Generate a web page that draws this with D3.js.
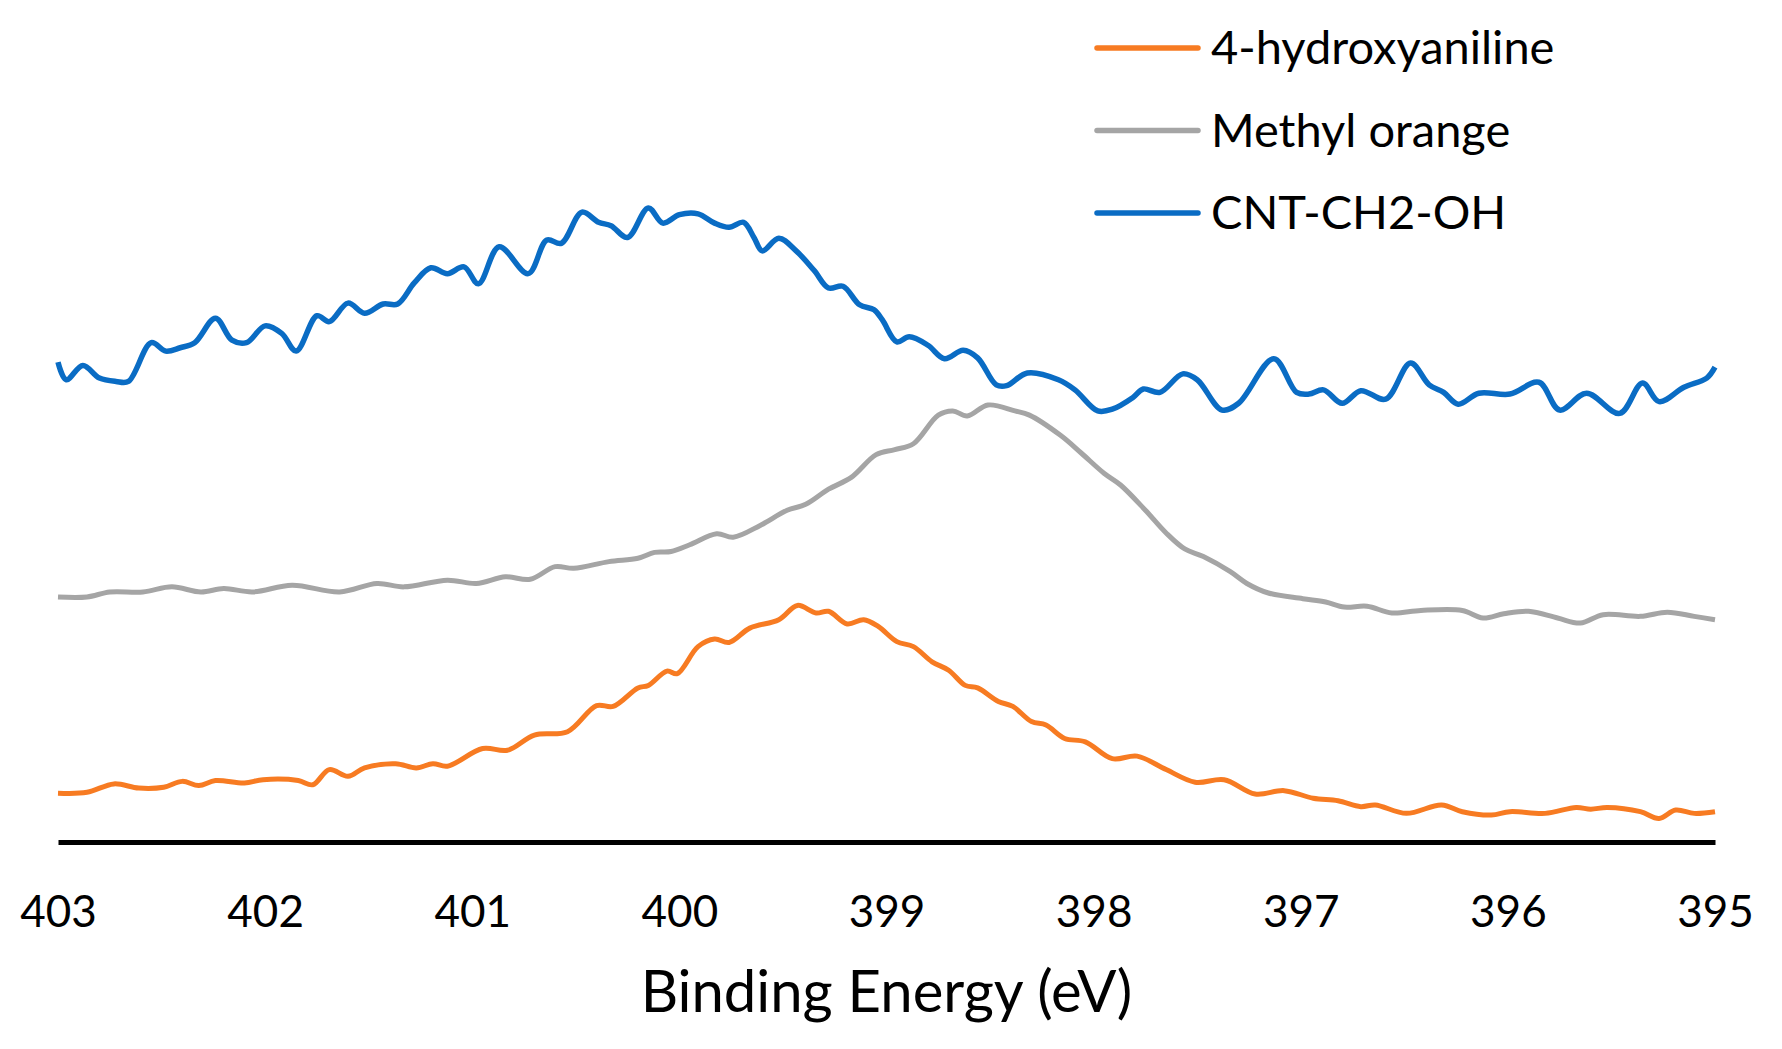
<!doctype html>
<html lang="en">

<head>
  <meta charset="UTF-8">
  <title>N 1s XPS</title>
  <style type="text/css">
    body { margin: 0; background: #fff; }
    text { font-family: Lato, "Open Sans", sans-serif; fill: #000; }
  </style>
  <script src="https://cdn.jsdelivr.net/npm/d3@7/dist/d3.min.js"></script>
</head>

<body>
  <div id="container"></div>
  <script>
    // series (binding energy in eV, intensity in a.u.)
    var blueEnergy = [403.00, 402.96, 402.88, 402.80, 402.72, 402.66, 402.55, 402.48, 402.41, 402.34,
      402.24, 402.16, 402.09, 402.00, 401.92, 401.85, 401.75, 401.69, 401.60, 401.52,
      401.43, 401.36, 401.28, 401.20, 401.12, 401.04, 400.97, 400.87, 400.73, 400.64,
      400.57, 400.47, 400.39, 400.33, 400.25, 400.15, 400.08, 400.00, 399.91, 399.83,
      399.76, 399.69, 399.64, 399.60, 399.52, 399.44, 399.35, 399.28, 399.21, 399.13,
      399.06, 399.02, 398.95, 398.89, 398.80, 398.72, 398.63, 398.56, 398.47, 398.42,
      398.32, 398.17, 398.09, 397.98, 397.91, 397.81, 397.76, 397.68, 397.57, 397.50,
      397.38, 397.30, 397.13, 397.02, 396.96, 396.89, 396.80, 396.71, 396.59, 396.47,
      396.38, 396.31, 396.24, 396.14, 395.99, 395.85, 395.75, 395.62, 395.46, 395.35,
      395.27, 395.15, 395.04, 395.00];
    var blueValues = [57.0, 54.9, 56.6, 55.1, 54.7, 54.7, 59.3, 58.3, 58.7, 59.3,
      62.2, 59.6, 59.3, 61.3, 60.4, 58.3, 62.5, 61.8, 64.0, 62.8,
      63.9, 63.9, 66.4, 68.2, 67.5, 68.3, 66.3, 70.7, 67.5, 71.5,
      71.1, 74.8, 73.6, 73.2, 71.8, 75.3, 73.5, 74.5, 74.6, 73.5,
      73.0, 73.6, 71.8, 70.2, 71.7, 70.3, 67.9, 65.8, 66.0, 63.8,
      63.2, 62.0, 59.4, 60.0, 59.0, 57.4, 58.4, 57.5, 54.3, 54.2,
      55.7, 54.9, 53.7, 51.2, 51.4, 52.8, 53.8, 53.4, 55.6, 54.9,
      51.3, 52.1, 57.4, 53.4, 53.2, 53.7, 52.1, 53.6, 52.6, 56.9,
      54.3, 53.4, 52.0, 53.3, 53.2, 54.6, 51.3, 53.3, 50.9, 54.5,
      52.3, 54.0, 55.1, 56.4];

    var grayEnergy = [403.00, 402.86, 402.75, 402.59, 402.45, 402.31, 402.20, 402.06, 401.87, 401.64,
      401.46, 401.33, 401.12, 400.98, 400.84, 400.72, 400.60, 400.51, 400.34, 400.20,
      400.12, 400.04, 399.95, 399.82, 399.74, 399.61, 399.48, 399.39, 399.28, 399.17,
      399.05, 398.96, 398.87, 398.75, 398.68, 398.61, 398.51, 398.38, 398.31, 398.16,
      398.06, 397.95, 397.87, 397.75, 397.65, 397.56, 397.47, 397.34, 397.26, 397.16,
      396.99, 396.88, 396.79, 396.68, 396.56, 396.42, 396.22, 396.12, 396.02, 395.90,
      395.76, 395.65, 395.54, 395.36, 395.23, 395.10, 395.00];
    var grayValues = [29.1, 29.1, 29.7, 29.7, 30.3, 29.7, 30.1, 29.7, 30.5, 29.7,
      30.7, 30.3, 31.1, 30.7, 31.5, 31.2, 32.7, 32.5, 33.3, 33.7,
      34.4, 34.5, 35.3, 36.6, 36.2, 37.6, 39.4, 40.1, 41.9, 43.3,
      46.0, 46.6, 47.3, 50.7, 51.2, 50.6, 51.9, 51.2, 50.7, 48.3,
      46.2, 43.8, 42.4, 39.4, 36.7, 34.8, 33.9, 32.1, 30.7, 29.6,
      28.9, 28.5, 27.9, 28.0, 27.2, 27.5, 27.5, 26.6, 27.1, 27.4,
      26.6, 26.0, 27.0, 26.8, 27.3, 26.8, 26.4];

    var orangeEnergy = [403.00, 402.86, 402.73, 402.61, 402.49, 402.40, 402.32, 402.24, 402.10, 402.01,
      401.84, 401.77, 401.69, 401.60, 401.52, 401.37, 401.27, 401.19, 401.12, 400.95,
      400.83, 400.70, 400.54, 400.40, 400.32, 400.20, 400.15, 400.06, 400.01, 399.91,
      399.83, 399.76, 399.66, 399.52, 399.43, 399.34, 399.28, 399.19, 399.11, 399.04,
      398.95, 398.87, 398.78, 398.70, 398.62, 398.56, 398.46, 398.39, 398.30, 398.23,
      398.14, 398.04, 397.91, 397.79, 397.65, 397.51, 397.37, 397.22, 397.08, 396.94,
      396.82, 396.71, 396.64, 396.49, 396.32, 396.22, 396.08, 395.99, 395.82, 395.67,
      395.60, 395.52, 395.36, 395.27, 395.19, 395.10, 395.00];
    var orangeValues = [5.8, 5.9, 6.9, 6.4, 6.5, 7.2, 6.7, 7.3, 7.0, 7.4,
      7.3, 6.8, 8.6, 7.8, 8.8, 9.3, 8.8, 9.3, 9.0, 11.1,
      10.9, 12.7, 13.1, 16.2, 16.1, 18.3, 18.6, 20.3, 20.0, 23.2,
      24.1, 23.7, 25.4, 26.4, 28.1, 27.2, 27.4, 25.9, 26.4, 25.6,
      23.8, 23.2, 21.4, 20.4, 18.6, 18.3, 16.7, 16.1, 14.3, 13.9,
      12.3, 11.9, 9.9, 10.2, 8.6, 7.1, 7.4, 5.7, 6.1, 5.2,
      4.9, 4.2, 4.4, 3.4, 4.4, 3.6, 3.2, 3.6, 3.4, 4.1,
      3.9, 4.1, 3.6, 2.8, 3.8, 3.4, 3.6];

    var seriesNames = ["4-hydroxyaniline", "Methyl orange", "CNT-CH2-OH"];
    var seriesColors = ["#f77b22", "#a5a5a5", "#0a6cc4"];
    var xTicks = [403, 402, 401, 400, 399, 398, 397, 396, 395];
    var xTitle = "Binding Energy (eV)";

    var width = 1782,
      height = 1049,
      margin = { left: 58, top: 0, right: 67, bottom: 207 };

    var svg = d3.select('#container').append('svg').attr('width', width).attr('height', height)

    var x = d3.scaleLinear()
      .domain([403, 395]) // energy runs right to left
      .range([margin.left, width - margin.right]);
    var y = d3.scaleLinear()
      .domain([0, 100])
      .range([height - margin.bottom, margin.top]);

    var line = d3.line()
      .x(function (d) { return x(d[0]); })
      .y(function (d) { return y(d[1]); })
      .curve(d3.curveCatmullRom.alpha(0.5));

    var series = [
      { name: seriesNames[0], color: seriesColors[0], data: d3.zip(orangeEnergy, orangeValues), w: 5 },
      { name: seriesNames[1], color: seriesColors[1], data: d3.zip(grayEnergy, grayValues), w: 5 },
      { name: seriesNames[2], color: seriesColors[2], data: d3.zip(blueEnergy, blueValues), w: 5.5 }
    ];

    svg.selectAll('path.trace')
      .data(series)
      .enter().append('path')
      .attr('class', 'trace')
      .attr('fill', 'none')
      .attr('stroke', function (d) { return d.color; })
      .attr('stroke-width', function (d) { return d.w; })
      .attr('stroke-linejoin', 'round')
      .attr('d', function (d) { return line(d.data); });

    // x axis: just the thick base line and labels
    var xAxis = d3.axisBottom(x)
      .tickValues(xTicks)
      .tickFormat(d3.format('d'))
      .tickSize(0)
      .tickPadding(54);
    var gx = svg.append('g')
      .attr('transform', 'translate(0,' + y(0) + ')')
      .call(xAxis);
    gx.select('.domain').attr('stroke', '#000').attr('stroke-width', 5);
    gx.selectAll('.tick text')
      .style('font-family', 'Lato, "Open Sans", sans-serif')
      .style('font-size', '44px')
      .attr('fill', '#000');

    svg.append('text')
      .attr('x', (x.range()[0] + x.range()[1]) / 2)
      .attr('y', 1012)
      .attr('text-anchor', 'middle')
      .style('font-size', '58px')
      .text(xTitle);

    // legend
    var legend = svg.append('g').attr('transform', 'translate(1097,48)');
    var item = legend.selectAll('g')
      .data(series)
      .enter().append('g')
      .attr('transform', function (d, i) { return 'translate(0,' + i * 82.5 + ')'; });
    item.append('line')
      .attr('x1', 0).attr('x2', 101)
      .attr('stroke', function (d) { return d.color; })
      .attr('stroke-width', 5.5)
      .attr('stroke-linecap', 'round');
    item.append('text')
      .attr('x', 114)
      .attr('y', 16)
      .style('font-size', '47px')
      .text(function (d) { return d.name; });
  </script>
</body>

</html>
